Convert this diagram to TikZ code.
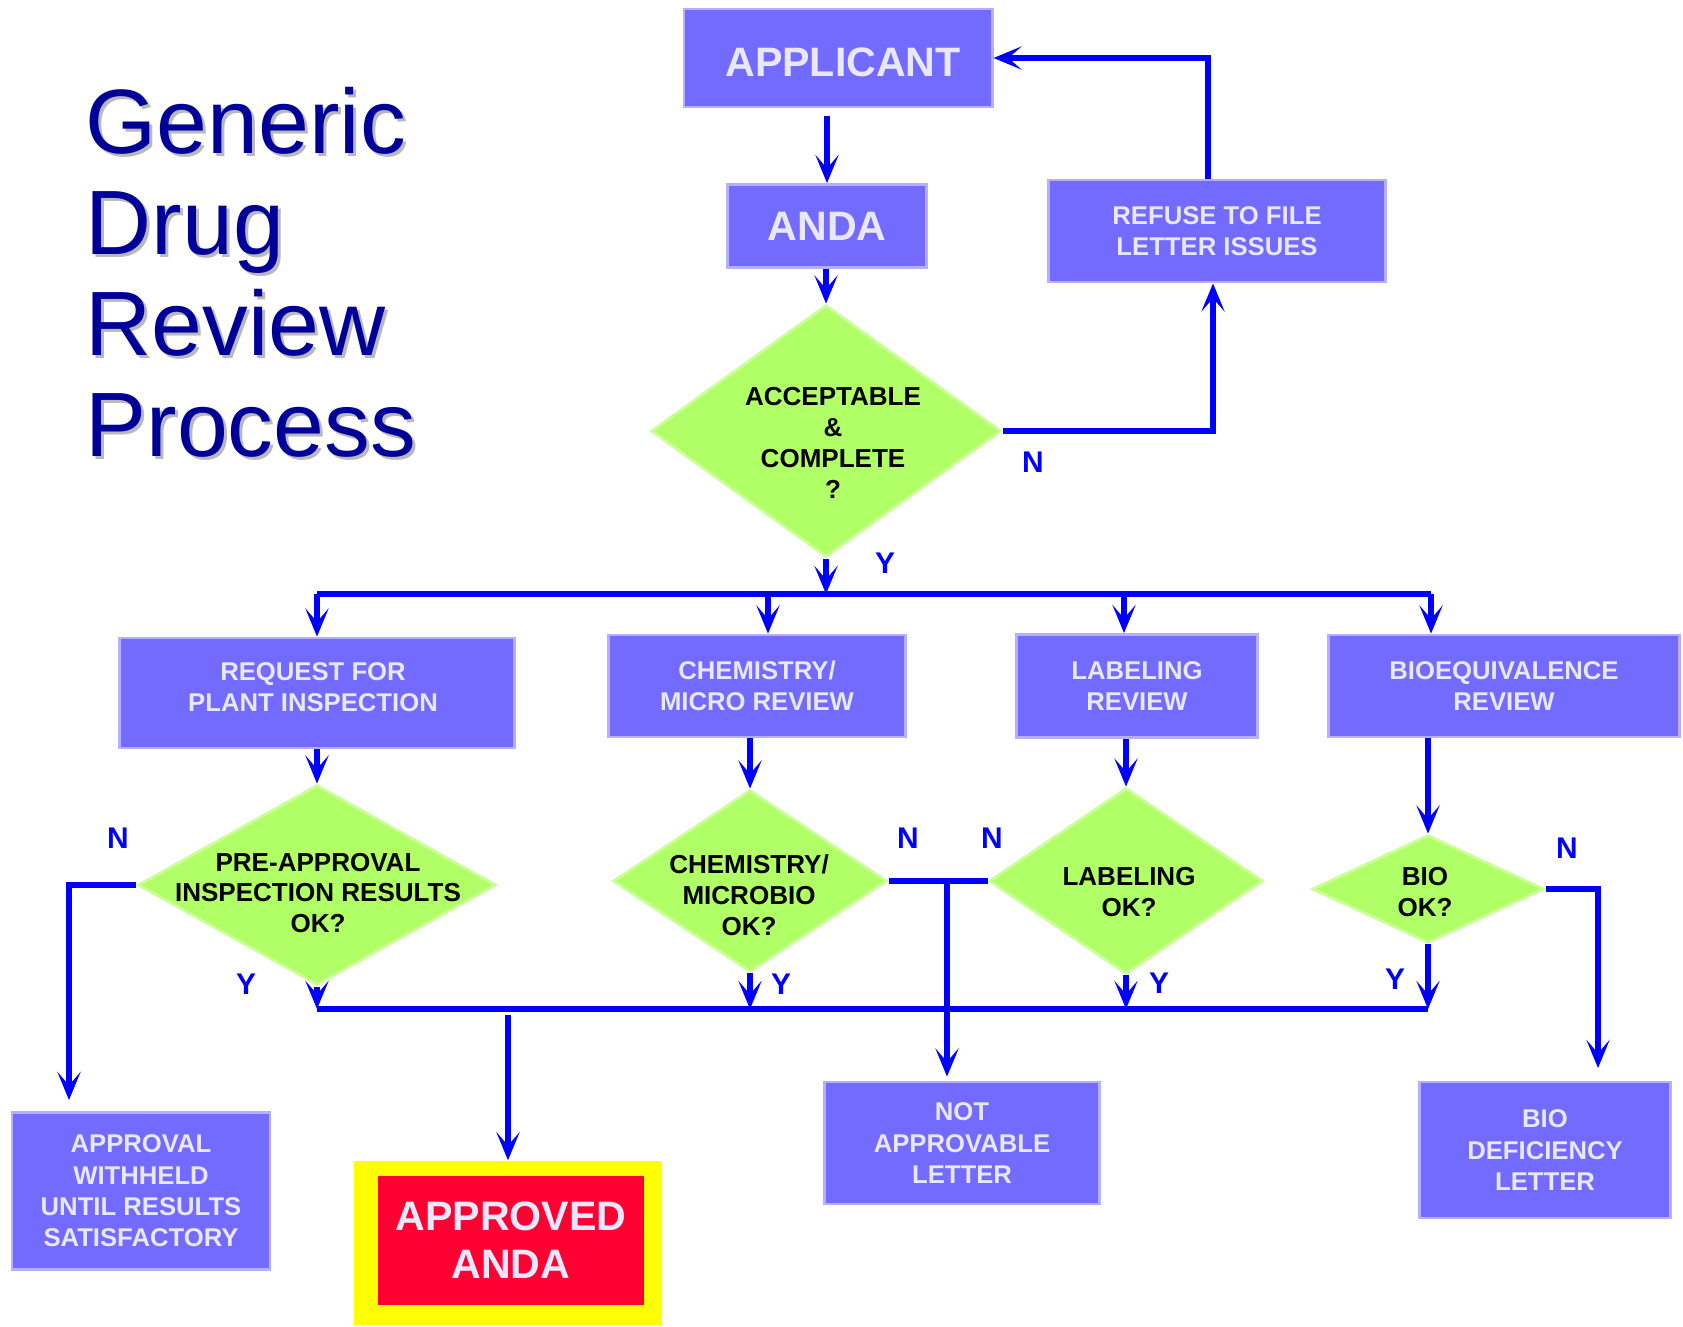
\documentclass[tikz,border=0pt]{standalone}
\usepackage{fontspec}
\setmainfont{Liberation Sans}
\usetikzlibrary{shapes.geometric,arrows.meta}
\definecolor{boxblue}{RGB}{115,106,255}
\definecolor{boxedge}{RGB}{180,176,255}
\definecolor{boxtext}{RGB}{232,232,250}
\definecolor{diagreen}{RGB}{176,255,102}
\definecolor{diaedge}{RGB}{204,255,153}
\definecolor{flowblue}{RGB}{0,0,255}
\definecolor{titleblue}{RGB}{0,0,153}
\definecolor{shadowgray}{RGB}{185,185,185}
\definecolor{okred}{RGB}{255,0,51}
\definecolor{okyellow}{RGB}{255,255,0}

\tikzset{
  box/.style={rectangle, draw=boxedge, line width=0.8pt, fill=boxblue, text=boxtext,
    font=\fontsize{7.3}{8.9}\selectfont\bfseries, align=center, inner sep=0pt},
  boxlabel/.style={text=boxtext, font=\fontsize{7.3}{8.9}\selectfont\bfseries, align=center, inner sep=0pt},
  bigbox/.style={box, font=\fontsize{11.7}{13.7}\selectfont\bfseries},
  dia/.style={diamond, draw=diaedge, line width=0.8pt, fill=diagreen, inner sep=0pt},
  diatext/.style={font=\fontsize{7.4}{8.8}\selectfont\bfseries, align=center, text=black, inner sep=0pt},
  arr/.style={draw=flowblue, line width=1.55pt, -{Stealth[length=8pt,width=6.6pt,inset=3.8pt]}},
  wire/.style={draw=flowblue, line width=1.55pt},
  yn/.style={text=flowblue, font=\fontsize{8.5}{10}\selectfont\bfseries},
  headline/.style={anchor=north west, align=left, inner sep=0pt,
    font=\fontsize{26}{28.7}\selectfont},
}

\begin{document}
\begin{tikzpicture}[x=0.01cm, y=-0.01cm]
    \useasboundingbox (0,0) rectangle (1683,1326);

    % title
    \node[headline, text=shadowgray] (headshadow) at (88,90) {Generic\\Drug\\Review\\Process};
    \node[headline, text=titleblue] (head) at (85,87) {Generic\\Drug\\Review\\Process};

    % boxes
    \node[bigbox, minimum width=3.08cm, minimum height=0.98cm] (app) at (838,58) {};
    \node[bigbox, draw=none, fill=none] (apptext) at (843,62) {APPLICANT};
    \node[bigbox, minimum width=1.99cm, minimum height=0.83cm] (anda) at (827,226) {ANDA};
    \node[box, minimum width=3.37cm, minimum height=1.02cm] (refuse) at (1217,231) {REFUSE TO FILE\\LETTER ISSUES};
    \node[box, minimum width=3.95cm, minimum height=1.10cm] (req) at (317,693) {};
    \node[boxlabel] (reqtext) at (313,687) {REQUEST FOR\\PLANT INSPECTION};
    \node[box, minimum width=2.97cm, minimum height=1.02cm] (chem) at (757,686) {CHEMISTRY/\\MICRO REVIEW};
    \node[box, minimum width=2.41cm, minimum height=1.03cm] (lab) at (1137,686) {LABELING\\REVIEW};
    \node[box, minimum width=3.51cm, minimum height=1.02cm] (bioeq) at (1504,686) {BIOEQUIVALENCE\\REVIEW};
    \node[box, minimum width=2.58cm, minimum height=1.57cm] (withheld) at (141,1191) {APPROVAL\\WITHHELD\\UNTIL RESULTS\\SATISFACTORY};
    \node[box, minimum width=2.75cm, minimum height=1.22cm] (notappr) at (962,1143) {NOT\\APPROVABLE\\LETTER};
    \node[box, minimum width=2.51cm, minimum height=1.36cm] (biodef) at (1545,1150) {BIO\\DEFICIENCY\\LETTER};
    \node[rectangle, fill=okyellow, minimum width=3.07cm, minimum height=1.64cm] (approved) at (508,1243) {};
    \node[bigbox, draw=none, fill=okred, minimum width=2.66cm, minimum height=1.29cm] (approvedin) at (511,1240) {APPROVED\\ANDA};

    % decisions
    \node[dia, minimum width=3.50cm, minimum height=2.52cm] (acc) at (826,431) {};
    \node[diatext] (acctext) at (833,443) {ACCEPTABLE\\\&\\COMPLETE\\?};
    \node[dia, minimum width=3.58cm, minimum height=2.00cm] (pre) at (317,885) {};
    \node[diatext] (pretext) at (318,893) {PRE-APPROVAL\\INSPECTION RESULTS\\OK?};
    \node[dia, minimum width=2.74cm, minimum height=1.82cm] (chemd) at (750,881) {};
    \node[diatext] (chemdtext) at (749,895) {CHEMISTRY/\\MICROBIO\\OK?};
    \node[dia, minimum width=2.74cm, minimum height=1.86cm] (labd) at (1126,881) {};
    \node[diatext] (labdtext) at (1129,892) {LABELING\\OK?};
    \node[dia, minimum width=2.32cm, minimum height=1.08cm] (biod) at (1428,889) {};
    \node[diatext] (biodtext) at (1425,892) {BIO\\OK?};

    % bus points
    \coordinate (topL) at (317,594);
    \coordinate (topR) at (1431,594);
    \coordinate (b2) at (768,594);
    \coordinate (b3) at (1124,594);
    \coordinate (botL) at (317,1009);
    \coordinate (nJ) at (947,881);
    \coordinate (wN) at (69,1100);
    \coordinate (dN) at (1598,1068);

    % top part
    \draw[arr, shorten <=0.08cm] (anda.north |- app.south) -- (anda.north);
    \draw[arr] (acc.north |- anda.south) -- (acc.north);
    \draw[arr] (acc.east) -| ([xshift=-0.04cm]refuse.south);
    \draw[arr] ([xshift=-0.09cm]refuse.north) |- (app.east);
    \draw[arr] (acc.south) -- (acc.south |- topL);

    % upper bus and reviews
    \draw[wire] (topL) -- (topR);
    \draw[arr] (topL) -- (req.north);
    \draw[arr] (b2) -- (b2 |- chem.north);
    \draw[arr] (b3) -- (b3 |- lab.north);
    \draw[arr] (topR) -- (topR |- bioeq.north);
    \draw[arr] (req.south) -- (pre.north);
    \draw[arr] (chemd.north |- chem.south) -- (chemd.north);
    \draw[arr] (labd.north |- lab.south) -- (labd.north);
    \draw[arr] (biod.north |- bioeq.south) -- (biod.north);

    % Y branches
    \draw[wire] (botL) -- (botL -| biod.south);
    \draw[arr] (pre.south) -- (botL);
    \draw[arr] (chemd.south) -- (chemd.south |- botL);
    \draw[arr] (labd.south) -- (labd.south |- botL);
    \draw[arr] (biod.south) -- (biod.south |- botL);
    \draw[arr, shorten <=0.06cm] (approved.north |- botL) -- (approved.north);

    % N branches
    \draw[arr] (pre.west) -| (wN);
    \draw[wire] (chemd.east) -- (labd.west);
    \draw[arr, shorten >=0.04cm] (nJ) -- (nJ |- notappr.north);
    \draw[arr] (biod.east) -| (dN);

    % Y / N marks
    \node[yn] (n1) at (1033,462) {N};
    \node[yn] (y1) at (885,563) {Y};
    \node[yn] (npre) at (118,838) {N};
    \node[yn] (ypre) at (246,984) {Y};
    \node[yn] (nchem) at (908,838) {N};
    \node[yn] (ychem) at (781,984) {Y};
    \node[yn] (nlab) at (992,838) {N};
    \node[yn] (ylab) at (1159,983) {Y};
    \node[yn] (nbio) at (1567,848) {N};
    \node[yn] (ybio) at (1395,979) {Y};
\end{tikzpicture}
\end{document}
